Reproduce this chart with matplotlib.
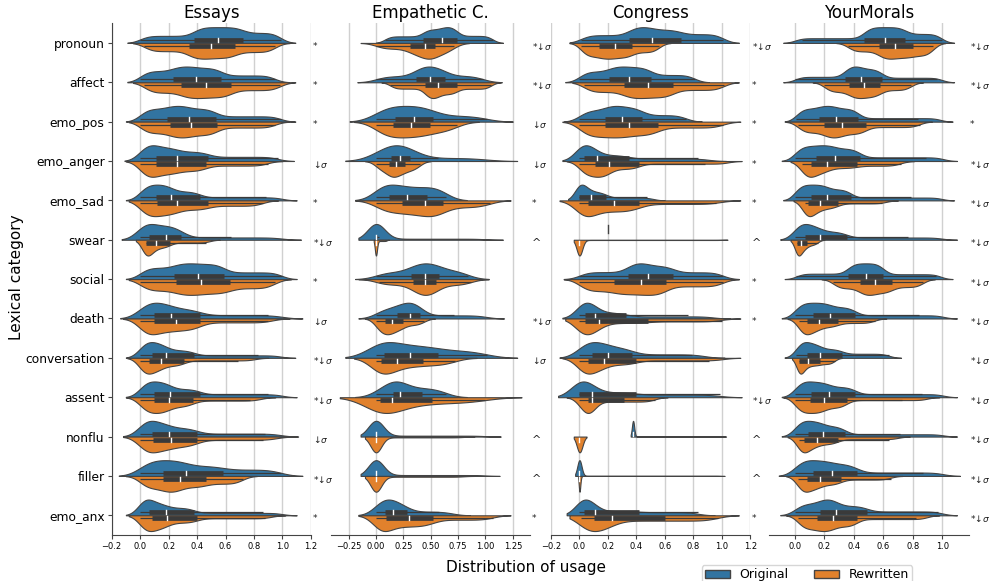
import math
import numpy as np
import matplotlib.pyplot as plt
from matplotlib.patches import Patch

categories = ['pronoun', 'affect', 'emo_pos', 'emo_anger', 'emo_sad', 'swear', 'social',
              'death', 'conversation', 'assent', 'nonflu', 'filler', 'emo_anx']
datasets = ['Essays', 'Empathetic C.', 'Congress', 'YourMorals']

# each row: violin left end, q1, median, q3, violin right end
essays_orig = [[-0.09, .38, .55, .72, 1.09], [-0.09, .23, .39, .57, 1.05], [-0.10, .19, .34, .53, 1.09],
               [-0.11, .11, .26, .48, 1.08], [-0.10, .11, .22, .42, 1.10], [-0.13, .06, .18, .29, 1.13],
               [-0.10, .24, .41, .59, 1.10], [-0.14, .10, .22, .42, 1.14], [-0.10, .08, .18, .38, 1.09],
               [-0.10, .10, .21, .42, 1.10], [-0.12, .08, .20, .40, 1.11], [-0.15, .16, .32, .58, 1.14],
               [-0.10, .06, .18, .38, 1.10]]
essays_rew = [[-0.05, .34, .50, .67, 1.05], [-0.05, .29, .46, .64, 1.09], [-0.08, .21, .36, .54, 1.05],
              [-0.10, .11, .26, .46, 1.00], [-0.08, .12, .26, .48, 0.97], [-0.03, .04, .11, .21, 0.56],
              [-0.08, .25, .43, .63, 1.06], [-0.12, .10, .25, .42, 1.05], [-0.09, .06, .15, .31, 0.90],
              [-0.10, .10, .20, .37, 0.95], [-0.12, .09, .22, .40, 1.08], [-0.10, .16, .28, .46, 0.82],
              [-0.08, .08, .19, .40, 1.02]]

empathetic_orig = [[0.00, .43, .60, .74, 1.16], [-0.17, .37, .49, .63, 1.15], [-0.24, .17, .35, .52, 1.25],
                   [-0.28, .14, .22, .31, 1.29], [-0.19, .12, .28, .47, 0.83], [-0.16, 0.0, 0.0, 0.01, 1.16],
                   [-0.19, .32, .45, .58, 1.03], [-0.16, .19, .31, .40, 1.17], [-0.28, .07, .31, .57, 1.29],
                   [-0.19, .16, .22, .42, 0.83], [-0.14, 0.0, 0.0, 0.0, 1.14], [-0.14, 0.0, 0.0, 0.0, 1.13],
                   [-0.16, .08, .16, .28, 0.86]]
empathetic_rew = [[-0.14, .31, .45, .54, 0.85], [0.05, .45, .57, .74, 1.14], [-0.20, .16, .32, .49, 0.94],
                  [-0.10, .12, .18, .27, 0.50], [-0.19, .24, .45, .61, 1.23], [-0.02, 0.0, 0.0, 0.0, 0.12],
                  [-0.16, .34, .45, .55, 1.03], [-0.10, .08, .15, .25, 0.54], [-0.20, .05, .19, .43, 0.92],
                  [-0.33, .04, .15, .51, 1.33], [-0.10, 0.0, 0.0, 0.0, 0.90], [-0.10, 0.0, 0.0, 0.0, 0.90],
                  [-0.16, .09, .30, .52, 1.23]]

congress_orig = [[-0.07, .35, .51, .71, 1.12], [-0.10, .21, .35, .50, 0.91], [-0.11, .18, .30, .44, 0.86],
                 [-0.12, .03, .12, .35, 1.03], [-0.08, 0.0, .08, .19, 0.60], [0.20, 0.20, 0.20, 0.20, 0.20],
                 [-0.11, .34, .48, .66, 1.12], [-0.12, .04, .11, .33, 1.06], [-0.14, .09, .20, .37, 1.02],
                 [-0.15, 0.0, .09, .40, 1.14], [0.36, .376, .376, .38, 1.03], [-0.03, 0.0, 0.0, 0.0, 1.02],
                 [-0.09, .03, .11, .42, 0.95]]
congress_rew = [[-0.07, .14, .25, .37, 0.64], [-0.05, .31, .48, .66, 1.12], [-0.12, .18, .35, .55, 1.13],
                [-0.09, .11, .21, .42, 1.14], [-0.14, .06, .24, .42, 1.13], [-0.04, 0.0, 0.0, 0.0, 1.04],
                [-0.11, .24, .43, .61, 1.12], [-0.10, .04, .14, .48, 1.13], [-0.12, .06, .17, .40, 1.13],
                [-0.09, .06, .09, .31, 0.62], [-0.04, 0.0, 0.0, 0.0, 0.05], [-0.01, 0.0, 0.0, 0.0, 0.02],
                [-0.07, .10, .23, .60, 1.12]]

yourmorals_orig = [[-0.08, .47, .61, .75, 1.08], [-0.08, .34, .45, .59, 1.08], [-0.07, .16, .28, .43, 1.07],
                   [-0.09, .14, .27, .44, 1.10], [-0.08, .11, .22, .38, 1.08], [-0.10, .07, .17, .35, 1.10],
                   [-0.07, .36, .48, .60, 1.07], [-0.09, .12, .24, .41, 1.10], [-0.07, .08, .17, .32, 0.72],
                   [-0.09, .11, .23, .41, 1.10], [-0.09, .09, .19, .34, 1.10], [-0.11, .12, .25, .42, 1.12],
                   [-0.10, .17, .28, .49, 1.10]]
yourmorals_rew = [[0.28, .57, .68, .80, 1.02], [0.12, .37, .47, .58, 0.87], [-0.06, .20, .32, .48, 0.93],
                  [-0.03, .11, .22, .42, 0.81], [-0.01, .09, .17, .29, 0.70], [-0.03, .015, .04, .08, 0.20],
                  [0.18, .44, .54, .66, 0.95], [-0.05, .08, .16, .29, 0.62], [-0.02, .03, .09, .17, 0.32],
                  [-0.08, .10, .20, .35, 0.98], [-0.05, .06, .15, .29, 0.78], [-0.06, .08, .17, .31, 0.73],
                  [-0.06, .15, .26, .42, 0.98]]

# significance marks next to each row
essays_marks = ['*', '*', '*', '↓σ', '*', '*↓σ', '*', '↓σ', '*↓σ', '*↓σ', '↓σ', '*↓σ', '*']
empathetic_marks = ['*↓σ', '*↓σ', '↓σ', '↓σ', '*', '^', '', '*↓σ', '↓σ', '', '^', '^', '*']
congress_marks = ['*↓σ', '*', '*', '*', '*', '^', '*', '*', '', '*↓σ', '^', '^', '*']
yourmorals_marks = ['*↓σ', '*↓σ', '*', '*↓σ', '*↓σ', '*↓σ', '*↓σ', '*↓σ', '*↓σ', '*↓σ', '*↓σ', '*↓σ', '*↓σ']

x_ticks = [np.arange(-0.2, 1.21, 0.2), np.arange(-0.25, 1.26, 0.25),
           np.arange(-0.2, 1.21, 0.2), np.arange(0.0, 1.01, 0.2)]
x_lims = [(-0.2, 1.2), (-0.41, 1.41), (-0.2, 1.2), (-0.174, 1.179)]

BLUE = '#3274a1'
ORANGE = '#e1812c'
LINE = '#444444'
BOX = '#3a3a3a'

erf = np.vectorize(math.erf)


def half_density(x, lo, q1, med, q3, hi):
  # smooth a quartile-wise uniform density
  dmin = min(max(0.0, lo + 0.08), q1)
  bw = max((dmin - lo) / 2, 0.15 * (q3 - q1), 0.003)
  dmax = max(hi - 2 * bw, q3)
  knots = [dmin, q1, med, q3, dmax]
  d = np.zeros_like(x)
  s = bw * math.sqrt(2)
  for a, b in zip(knots[:-1], knots[1:]):
    if b - a < 1e-4:
      d += 0.25 * np.exp(-0.5 * ((x - a) / bw) ** 2) / (bw * math.sqrt(2 * math.pi))
    else:
      d += 0.25 / (b - a) * 0.5 * (erf((x - a) / s) - erf((x - b) / s))
  return d, dmin, dmax


def draw_half(ax, pos, stats, color, side):
  lo, q1, med, q3, hi = stats
  if hi - lo < 1e-3:
    ax.plot([lo, lo], [pos + side * 0.38, pos + side * 0.17], color=LINE, lw=1, zorder=3)
    return
  x = np.linspace(lo, hi, 400)
  d, dmin, dmax = half_density(x, lo, q1, med, q3, hi)
  d = d / d.max() * 0.4
  ax.fill_between(x, pos, pos + side * d, facecolor=color, edgecolor=LINE, lw=0.8, zorder=2)
  iqr = q3 - q1
  wlo = max(dmin, q1 - 1.5 * iqr)
  whi = min(dmax, q3 + 1.5 * iqr)
  yb = pos + side * 0.076
  ax.plot([wlo, whi], [yb, yb], color=BOX, lw=0.9, zorder=3, solid_capstyle='butt')
  ax.plot([q1, q3], [yb, yb], color=BOX, lw=3.4, zorder=3, solid_capstyle='butt')
  ax.plot([med, med], [yb - 0.05, yb + 0.05], color='white', lw=1.0, zorder=4)


fig = plt.figure(figsize=(9.89, 5.81), dpi=100)
lefts = [0.1129, 0.3347, 0.5571, 0.7779]

panels = [(essays_orig, essays_rew, essays_marks),
          (empathetic_orig, empathetic_rew, empathetic_marks),
          (congress_orig, congress_rew, congress_marks),
          (yourmorals_orig, yourmorals_rew, yourmorals_marks)]

for i, (orig, rew, marks) in enumerate(panels):
  ax = fig.add_axes([lefts[i], 0.0792, 0.2015, 0.8808])
  ax.patch.set_visible(False)
  for pos in range(len(categories)):
    draw_half(ax, pos, orig[pos], BLUE, -1)
    draw_half(ax, pos, rew[pos], ORANGE, 1)
    m = marks[pos]
    if m:
      ax.text(1.008, pos + 0.08, m.replace('σ', r'$\sigma$'), transform=ax.get_yaxis_transform(),
              ha='left', va='center', fontsize=6.5 if m != '^' else 8, color='#222222')
  ax.set_ylim(len(categories) - 0.5, -0.5)
  ax.set_xlim(*x_lims[i])
  ax.set_xticks(x_ticks[i])
  ax.tick_params(axis='x', labelsize=6, length=3, width=0.8, color='#444444', pad=2)
  ax.grid(axis='x', color='#d0d0d0', lw=1, zorder=0)
  ax.set_axisbelow(True)
  ax.set_title(datasets[i], fontsize=12, pad=4)
  for sp in ['top', 'right']:
    ax.spines[sp].set_visible(False)
  ax.spines['bottom'].set_color('#444444')
  ax.spines['left'].set_color('#444444')
  if i == 0:
    ax.set_yticks(range(len(categories)))
    ax.set_yticklabels(categories, fontsize=8.8)
    ax.tick_params(axis='y', length=3, width=0.8, color='#444444', pad=2)
  else:
    ax.set_yticks([])
    ax.spines['left'].set_visible(False)

fig.text(0.017, 0.523, 'Lexical category', rotation=90, ha='center', va='center', fontsize=11)
fig.text(0.532, 0.024, 'Distribution of usage', ha='center', va='center', fontsize=11)

handles = [Patch(facecolor=BLUE, edgecolor=LINE, label='Original'),
           Patch(facecolor=ORANGE, edgecolor=LINE, label='Rewritten')]
fig.legend(handles=handles, loc='upper left', bbox_to_anchor=(0.703, 0.038), ncol=2,
           fontsize=9, frameon=True, columnspacing=2.0, borderpad=0.25, handleheight=0.6)

fig.savefig('out.png', dpi=100)
